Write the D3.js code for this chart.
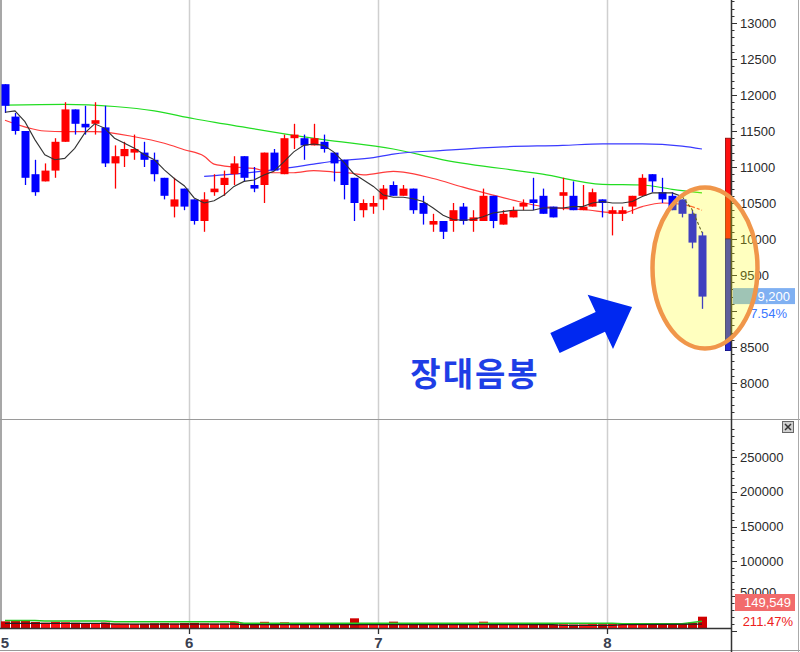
<!DOCTYPE html>
<html><head><meta charset="utf-8">
<script src="https://cdn.jsdelivr.net/npm/d3@7/dist/d3.min.js"></script>
<style>body{margin:0;background:#fff}svg{display:block}</style>
</head><body><svg id="c" width="800" height="652"></svg>
<script>
// ---------------- data ----------------
const candleOpen  = [12150,11700,11500,10900,10800,10950,11350,11800,11600,11600,11550,11050,11150,11200,11200,11100,10850,10450,10700,10550,10250,10650,10750,10900,11150,10750,10750,11200,10900,11400,11400,11300,11350,11200,11100,10850,10400,10450,10550,10750,10600,10700,10500,10200,10250,10250,10450,10250,10250,10600,10200,10300,10450,10550,10600,10450,10600,10600,10400,10450,10550,10350,10350,10450,10600,10900,10650,10600,10550,10350,10050];
const candleHigh  = [12150,11750,11500,11100,11050,11400,11900,11800,11850,11900,11850,11300,11350,11450,11350,11200,10850,10850,10700,10550,10650,10900,10950,11150,11150,11000,11200,11250,11450,11600,11450,11600,11450,11200,11100,10850,10550,10600,10750,10800,10750,10700,10600,10350,10250,10500,10500,10400,10700,10600,10400,10450,10550,10850,10700,10450,10850,10800,10750,10700,10550,10450,10450,10600,10900,10900,10850,10650,10550,10400,10100];
const candleLow   = [11750,11450,10750,10600,10800,10850,11350,11450,11450,11450,11000,10700,11000,11100,11000,10800,10550,10300,10400,10200,10100,10600,10600,10750,10800,10650,10500,10950,10900,11250,11100,11300,11200,10800,10550,10250,10300,10350,10400,10600,10600,10350,10200,10100,10000,10100,10200,10100,10250,10150,10200,10300,10400,10400,10350,10300,10400,10400,10400,10450,10300,10050,10250,10350,10600,10650,10500,10400,10300,9870,9030];
const candleClose = [11850,11500,10850,10650,10950,11350,11800,11600,11550,11650,11050,11150,11250,11250,11100,10900,10600,10550,10450,10250,10550,10700,10850,11050,10850,10700,11200,10950,11400,11450,11300,11400,11250,11050,10750,10500,10500,10500,10700,10600,10700,10400,10350,10250,10100,10400,10250,10300,10600,10250,10350,10400,10500,10500,10350,10300,10650,10400,10450,10650,10500,10400,10400,10600,10850,10800,10550,10400,10350,9950,9200];
const volume      = [88000,92000,105000,80000,70000,82000,76000,70000,64000,66000,72000,60000,58000,55000,57000,62000,64000,60000,65000,68000,62000,58000,60000,84000,62000,55000,82000,60000,75000,58000,52000,56000,50000,54000,60000,128000,62000,52000,60000,84000,50000,55000,58000,52000,56000,54000,50000,48000,84000,62000,52000,50000,46000,55000,58000,48000,50000,46000,47000,52000,50000,56000,48000,52000,64000,56000,52000,55000,60000,70720,149549];

// moving averages
const ma5 = [11760,11780,11630,11380,11170,11100,11120,11260,11470,11600,11540,11400,11330,11260,11170,11100,10960,10840,10740,10570,10500,10530,10610,10730,10800,10820,10890,10940,11070,11210,11300,11320,11300,11210,11070,10910,10820,10730,10610,10580,10580,10560,10520,10430,10330,10270,10260,10270,10310,10360,10380,10400,10400,10400,10430,10430,10430,10450,10450,10500,10520,10500,10500,10520,10590,10640,10640,10640,10590,10410,10090];
const ma20Idx = [0,4,6,9,13,16,18,20,21,23,25,27,29,31,33,35,36,39,40,43,46,49,51,54,58,62,64,66,68,69,70];
const ma20Val = [11650,11500,11490,11490,11420,11330,11240,11150,11040,11000,10980,10920,10920,10950,10930,10910,10890,10940,10930,10840,10720,10610,10540,10450,10410,10360,10450,10500,10480,10450,10400];
const ma60Idx = [0,6,11,15,19,22,29,32,39,44,54,60,64,67,70];
const ma60Val = [11860,11870,11840,11780,11670,11600,11440,11380,11250,11100,10900,10760,10750,10690,10640];
const ma120Idx = [20,25,28,31,33,37,39,44,50,56,60,64,68,70];
const ma120Val = [10870,10930,10980,11040,11080,11130,11180,11230,11280,11300,11320,11320,11290,11250];
const volMaGreenIdx = [0,3,4,10,11,23,24,55,56,61,62,68,69,70];
const volMaGreenVal = [100000,100000,92000,92000,83000,83000,64000,64000,64000,64000,56000,56000,72000,90000];
const volMaBlackIdx = [0,10,11,23,24,55,56,61,62,70];
const volMaBlackVal = [60000,60000,50000,50000,44000,44000,36000,36000,44000,50000];

const monthLabels = ["5","6","7","8"];
const monthStart  = [0,19,38,61];
const priceTicks  = [8000,8500,9000,9500,10000,10500,11000,11500,12000,12500,13000];
const hiddenPriceLabels = [9000];   // covered by the last-price tag in the original
const volTicks    = [50000,100000,150000,200000,250000];
const axisBarLevels = [11400,10000,8450];
const lastPriceText = "9,200", lastChangeText = "-7.54%";
const lastVolText = "149,549", volChangeText = "211.47%";
const annotationText = "장대음봉";

// ---------------- layout ----------------
const svg = d3.select("#c");
const axisX = 731;
const x = d3.scaleLinear().domain([0, 70]).range([5, 702]);
const py = d3.scaleLinear().domain([8000, 13000]).range([383, 23]);
const volAxis = d3.scaleLinear().domain([0, 250000]).range([630.75, 457]);
const volBar = d3.scaleLinear().domain([0, 2750000]).range([628, 420]);
const upC = "#ff0000", dnC = "#0000ff";

// month gridlines
monthStart.slice(1).forEach(s => {
  const gx = Math.round(x(s - 0.5)) + 0.5;
  svg.append("line").attr("x1", gx).attr("x2", gx).attr("y1", 0).attr("y2", 628)
    .attr("stroke", "#cfcfcf").attr("stroke-width", 1.5);
});
// left border
svg.append("line").attr("x1", 1).attr("x2", 1).attr("y1", 0).attr("y2", 628).attr("stroke", "#8a8a8a").attr("stroke-width", 1.5);
// panel separator
svg.append("line").attr("x1", 0).attr("x2", 800).attr("y1", 419.5).attr("y2", 419.5).attr("stroke", "#9a9a9a").attr("stroke-width", 1.2);

// MA lines
const lineIdx = d3.line().x(d => x(d[0])).y(d => py(d[1])).curve(d3.curveMonotoneX);
const zip = (a, b) => a.map((v, i) => [v, b[i]]);
svg.append("path").attr("d", lineIdx(zip(ma60Idx, ma60Val))).attr("fill", "none").attr("stroke", "#22dd22").attr("stroke-width", 1.2);
svg.append("path").attr("d", lineIdx(zip(ma120Idx, ma120Val))).attr("fill", "none").attr("stroke", "#3a3aff").attr("stroke-width", 1.2);
const r20 = zip(ma20Idx, ma20Val);
svg.append("path").attr("d", lineIdx(r20.slice(0, r20.length - 1))).attr("fill", "none").attr("stroke", "#ff3b3b").attr("stroke-width", 1.2);
svg.append("path").attr("d", lineIdx(r20.slice(r20.length - 2))).attr("fill", "none").attr("stroke", "#ff3b3b").attr("stroke-width", 1.2).attr("stroke-dasharray", "3,2");

// candles
const cg = svg.append("g");
candleOpen.forEach((o, i) => {
  const c = candleClose[i], up = c >= o, col = up ? upC : dnC;
  const cx = Math.round(x(i));
  cg.append("line").attr("x1", cx + 0.5).attr("x2", cx + 0.5)
    .attr("y1", py(candleHigh[i])).attr("y2", py(candleLow[i])).attr("stroke", col).attr("stroke-width", 1.3);
  const top = py(Math.max(o, c)), bot = py(Math.min(o, c));
  cg.append("rect").attr("x", cx - 3.5).attr("width", 8).attr("y", top).attr("height", Math.max(1.5, bot - top)).attr("fill", col);
});

// MA5 (black)
const l5 = d3.line().x((d, i) => x(i)).y(d => py(d));
svg.append("path").attr("d", l5(ma5.slice(0, 69))).attr("fill", "none").attr("stroke", "#333").attr("stroke-width", 1.1);
svg.append("path").attr("d", d3.line().x(d => x(d[0])).y(d => py(d[1]))([[68, ma5[68]], [69, ma5[69]], [70, ma5[70]]]))
  .attr("fill", "none").attr("stroke", "#333").attr("stroke-width", 1.1).attr("stroke-dasharray", "3,2");

// volume bars
const vg = svg.append("g");
volume.forEach((v, i) => {
  const cx = Math.round(x(i));
  const up = candleClose[i] >= candleOpen[i];
  vg.append("rect").attr("x", cx - 4).attr("width", 9).attr("y", volBar(v)).attr("height", 628 - volBar(v))
    .attr("fill", up ? "#ff1010" : "#d00000");
});
const lv = d3.line().x(d => x(d[0])).y(d => volBar(d[1]));
svg.append("path").attr("d", lv(zip(volMaGreenIdx, volMaGreenVal))).attr("fill", "none").attr("stroke", "#22cc22").attr("stroke-width", 1.5);
svg.append("path").attr("d", lv(zip(volMaBlackIdx, volMaBlackVal))).attr("fill", "none").attr("stroke", "#222").attr("stroke-width", 1.2);

// bottom axis
svg.append("line").attr("x1", 0).attr("x2", axisX).attr("y1", 628.5).attr("y2", 628.5).attr("stroke", "#333").attr("stroke-width", 1.3);
svg.append("line").attr("x1", 0).attr("x2", 800).attr("y1", 650.5).attr("y2", 650.5).attr("stroke", "#999").attr("stroke-width", 1);
monthStart.forEach((s, k) => {
  const gx = Math.max(x(s - 0.5), 5);
  if (k > 0) svg.append("line").attr("x1", Math.round(gx) + 0.5).attr("x2", Math.round(gx) + 0.5).attr("y1", 628).attr("y2", 634).attr("stroke", "#333").attr("stroke-width", 1.3);
  svg.append("text").attr("x", gx).attr("y", 648).attr("text-anchor", "middle")
    .attr("font-family", "Liberation Sans, Arial, sans-serif").attr("font-size", 15).attr("font-weight", "bold").attr("fill", "#3a4050").text(monthLabels[k]);
});

// right axis
svg.append("line").attr("x1", axisX + 0.5).attr("x2", axisX + 0.5).attr("y1", 0).attr("y2", 652).attr("stroke", "#333").attr("stroke-width", 1.5);
svg.append("line").attr("x1", 798.5).attr("x2", 798.5).attr("y1", 0).attr("y2", 652).attr("stroke", "#aaa").attr("stroke-width", 1);
const ag = svg.append("g");
d3.range(7600, 13400, 100).forEach(v => {
  const yy = Math.round(py(v)) + 0.5, major = v % 500 === 0;
  ag.append("line").attr("x1", axisX).attr("x2", axisX + (major ? 6 : 3.5)).attr("y1", yy).attr("y2", yy).attr("stroke", "#333").attr("stroke-width", 1);
});
priceTicks.filter(v => !hiddenPriceLabels.includes(v)).forEach(v => {
  ag.append("text").attr("x", 740).attr("y", py(v) + 4.5).attr("font-family", "Liberation Sans, Arial, sans-serif")
    .attr("font-size", 13).attr("fill", "#2a2a2a").text(v);
});
d3.range(0, 300001, 10000).forEach(v => {
  const yy = Math.round(volAxis(v)) + 0.5;
  if (yy < 424) return;
  const major = v % 50000 === 0;
  ag.append("line").attr("x1", axisX).attr("x2", axisX + (major ? 6 : 3.5)).attr("y1", yy).attr("y2", yy).attr("stroke", "#333").attr("stroke-width", 1);
});
volTicks.forEach(v => {
  ag.append("text").attr("x", 740).attr("y", volAxis(v) + (v === 50000 ? 1 : 4.5)).attr("font-family", "Liberation Sans, Arial, sans-serif")
    .attr("font-size", 13).attr("fill", "#2a2a2a").text(v);
});

// range bar beside the axis
svg.append("rect").attr("x", 725.5).attr("width", 5).attr("y", py(axisBarLevels[0])).attr("height", py(axisBarLevels[1]) - py(axisBarLevels[0]))
  .attr("fill", "#ff1010").attr("stroke", "#8a0000").attr("stroke-width", 0.8);
svg.append("rect").attr("x", 725.5).attr("width", 5).attr("y", py(axisBarLevels[1])).attr("height", py(axisBarLevels[2]) - py(axisBarLevels[1]))
  .attr("fill", "#2828d0").attr("stroke", "#000080").attr("stroke-width", 0.8);

// last price label
const lastY = py(candleClose[70]);
svg.append("rect").attr("x", 733).attr("y", lastY - 8.5).attr("width", 62).attr("height", 16).attr("fill", "#7fb0f2");
svg.append("text").attr("x", 790).attr("y", lastY + 4).attr("text-anchor", "end").attr("font-family", "Liberation Sans, Arial, sans-serif")
  .attr("font-size", 13).attr("fill", "#fff").text(lastPriceText);
svg.append("text").attr("x", 787).attr("y", lastY + 21).attr("text-anchor", "end").attr("font-family", "Liberation Sans, Arial, sans-serif")
  .attr("font-size", 13).attr("fill", "#3a78ff").text(lastChangeText);

// last volume label
svg.append("rect").attr("x", 735).attr("y", 594).attr("width", 60).attr("height", 17).attr("fill", "#f26b6b");
svg.append("text").attr("x", 791).attr("y", 607).attr("text-anchor", "end").attr("font-family", "Liberation Sans, Arial, sans-serif")
  .attr("font-size", 13).attr("fill", "#fff").text(lastVolText);
svg.append("text").attr("x", 793).attr("y", 626).attr("text-anchor", "end").attr("font-family", "Liberation Sans, Arial, sans-serif")
  .attr("font-size", 13).attr("fill", "#ee2020").text(volChangeText);

// close button
svg.append("rect").attr("x", 782.5).attr("y", 421.5).attr("width", 11).attr("height", 11).attr("fill", "#cfcfcf").attr("stroke", "#666");
svg.append("path").attr("d", "M785,424L791,430M791,424L785,430").attr("stroke", "#333").attr("stroke-width", 1.5);

// annotation: ellipse highlight
svg.append("ellipse").attr("cx", 705).attr("cy", 268).attr("rx", 52.5).attr("ry", 80.5)
  .attr("fill", "rgba(255,255,0,0.25)").attr("stroke", "#f0964a").attr("stroke-width", 4.5);

// arrow
const L = 85, sw = 22, hw = 60, hl = 35;
svg.append("path").attr("transform", "translate(555,343) rotate(-25)")
  .attr("d", `M0,${-sw/2}L${L-hl},${-sw/2}L${L-hl},${-hw/2}L${L},0L${L-hl},${hw/2}L${L-hl},${sw/2}L0,${sw/2}Z`)
  .attr("fill", "#0028f0");

// label
svg.append("text").attr("x", 475).attr("y", 386).attr("text-anchor", "middle")
  .attr("font-family", "Noto Sans CJK KR, sans-serif").attr("font-size", 33).attr("font-weight", "bold")
  .attr("letter-spacing", 2).attr("fill", "#1e3ee6").text(annotationText);
</script></body></html>
